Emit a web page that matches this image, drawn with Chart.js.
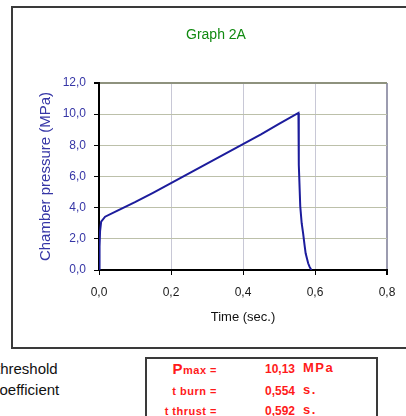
<!DOCTYPE html>
<html>
<head>
<meta charset="utf-8">
<script src="https://cdn.jsdelivr.net/npm/chart.js@4/dist/chart.umd.min.js"></script>
<style>
  html, body { margin: 0; padding: 0; background: #fff; width: 406px; height: 416px; overflow: hidden; position: relative; font-family: "Liberation Sans", Arial, sans-serif; }
  #c { position: absolute; left: 0; top: 0; }
  #frame { position: absolute; left: 11px; top: 6px; width: 430px; height: 343px; border: 2px solid #3a3a3a; box-sizing: border-box; pointer-events: none; }
  #title { position: absolute; left: 166px; width: 100px; top: 25px; text-align: center; color: #108a10; font-size: 14px; line-height: 18px; }
  .side { position: absolute; color: #111; font-size: 15px; line-height: 18px; white-space: nowrap; }
  #box { position: absolute; left: 145px; top: 357px; width: 233px; height: 80px; border: 2px solid #3a3a3a; box-sizing: border-box; }
  .lab, .val, .unit { position: absolute; color: #ff1a1a; white-space: nowrap; line-height: 16px; font-weight: bold; }
  .lab { right: 189px; font-size: 11px; letter-spacing: 0.5px; text-align: right; }
  .val { right: 111px; font-size: 12px; letter-spacing: 0px; text-align: right; }
  .unit { left: 303px; font-size: 13px; letter-spacing: 1.5px; }
  .big { font-size: 15px; }
</style>
</head>
<body>
<canvas id="c" width="406" height="348"></canvas>
<div id="frame"></div>
<div id="title">Graph 2A</div>
<div class="side" style="left:-4px; top:360px;">threshold</div>
<div class="side" style="left:-8px; top:381px;">coefficient</div>
<div id="box"></div>
<div class="lab" style="top:361px;"><span class="big">P</span>max =</div>
<div class="val" style="top:361px;">10,13</div>
<div class="unit" style="top:360px;">MPa</div>
<div class="lab" style="top:383px;">t burn =</div>
<div class="val" style="top:383px;">0,554</div>
<div class="unit" style="top:382px;">s.</div>
<div class="lab" style="top:403px;">t thrust =</div>
<div class="val" style="top:403px;">0,592</div>
<div class="unit" style="top:402px;">s.</div>
<script>
// Chamber pressure trace
const timeSec = [0.000, 0.001, 0.002, 0.003, 0.006, 0.017, 0.050, 0.100, 0.150, 0.200, 0.250, 0.300, 0.350, 0.400, 0.450, 0.500, 0.554, 0.555, 0.559, 0.563, 0.567, 0.571, 0.574, 0.578, 0.581, 0.585, 0.590];
const pressureMPa = [0.0, 0.2, 1.5, 2.5, 3.1, 3.42, 3.8, 4.35, 4.95, 5.58, 6.2, 6.82, 7.45, 8.07, 8.7, 9.38, 10.08, 6.75, 4.1, 3.0, 2.35, 1.6, 1.07, 0.7, 0.43, 0.2, 0.0];
const xTickValues = [0, 0.2, 0.4, 0.6, 0.8];
const yTickValues = [0, 2, 4, 6, 8, 10, 12];

const fmt = v => Number(v).toFixed(1).replace('.', ',');
const points = timeSec.map((t, i) => ({ x: t, y: pressureMPa[i] }));

new Chart(document.getElementById('c'), {
  type: 'line',
  data: {
    datasets: [{
      data: points,
      borderColor: '#1c1c9c',
      borderWidth: 2,
      pointRadius: 0,
      tension: 0,
      fill: false
    }]
  },
  options: {
    responsive: false,
    animation: false,
    devicePixelRatio: 1,
    layout: { padding: { left: 12, top: 83, right: 19, bottom: 0 } },
    plugins: { legend: { display: false }, tooltip: { enabled: false }, title: { display: false } },
    scales: {
      x: {
        type: 'linear',
        min: 0, max: 0.8,
        afterBuildTicks: s => { s.ticks = xTickValues.map(v => ({ value: v })); },
        afterFit: s => { s.height = 78; },
        border: { color: '#000', width: 2 },
        grid: {
          color: ctx => (ctx.tick && ctx.tick.value === 0.8) ? '#9c9cb0' : '#c8c8d6',
          lineWidth: ctx => (ctx.tick && ctx.tick.value === 0.8) ? 2 : 1,
          tickColor: '#000',
          tickLength: 5,
          drawTicks: true
        },
        ticks: {
          callback: v => fmt(v),
          color: '#1a1a1a',
          font: { family: '"Liberation Sans", Arial', size: 12 },
          padding: 10,
          maxRotation: 0,
          autoSkip: false
        },
        title: {
          display: true,
          text: 'Time (sec.)',
          color: '#111',
          font: { family: '"Liberation Sans", Arial', size: 13 },
          padding: { top: 0, bottom: 23 }
        }
      },
      y: {
        type: 'linear',
        min: 0, max: 12,
        afterBuildTicks: s => { s.ticks = yTickValues.map(v => ({ value: v })); },
        afterFit: s => { s.width = 87; },
        border: { color: '#000', width: 2 },
        grid: {
          color: ctx => (ctx.tick && ctx.tick.value === 12) ? '#8e927e' : '#bcc0aa',
          lineWidth: ctx => (ctx.tick && ctx.tick.value === 12) ? 2 : 1,
          tickColor: '#000',
          tickLength: 5,
          drawTicks: true
        },
        ticks: {
          callback: v => fmt(v),
          color: '#3636a6',
          font: { family: '"Liberation Sans", Arial', size: 12 },
          padding: 8,
          autoSkip: false
        },
        title: {
          display: true,
          text: 'Chamber pressure (MPa)',
          color: '#3636a6',
          font: { family: '"Liberation Sans", Arial', size: 15 },
          padding: { top: 25, bottom: 0 }
        }
      }
    }
  }
});
</script>
</body>
</html>
